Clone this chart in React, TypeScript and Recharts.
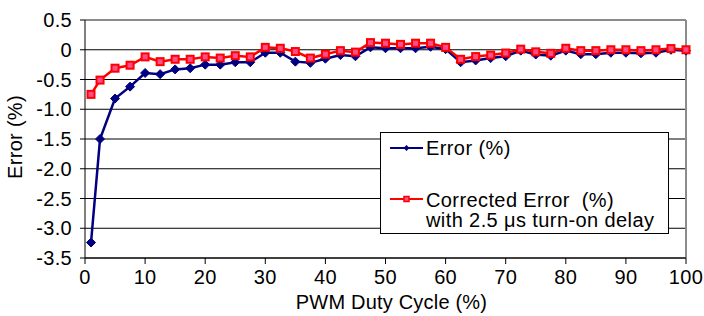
import React from 'react';
import { LineChart, Line, XAxis, YAxis, CartesianGrid, ReferenceLine, Legend } from 'recharts';

const dutyCycle = [1, 2.5, 5, 7.5, 10, 12.5, 15, 17.5, 20, 22.5, 25, 27.5, 30, 32.5, 35, 37.5, 40, 42.5, 45, 47.5, 50, 52.5, 55, 57.5, 60, 62.5, 65, 67.5, 70, 72.5, 75, 77.5, 80, 82.5, 85, 87.5, 90, 92.5, 95, 97.5, 100];
const errorPct = [-3.24, -1.5, -0.82, -0.62, -0.39, -0.41, -0.33, -0.31, -0.25, -0.25, -0.21, -0.21, -0.05, -0.05, -0.2, -0.22, -0.15, -0.09, -0.11, 0.04, 0.025, 0.025, 0.025, 0.05, 0.01, -0.21, -0.18, -0.14, -0.11, -0.015, -0.08, -0.1, -0.015, -0.075, -0.075, -0.05, -0.05, -0.06, -0.05, 0.0, -0.015];
const correctedPct = [-0.75, -0.51, -0.31, -0.26, -0.12, -0.2, -0.16, -0.16, -0.12, -0.14, -0.1, -0.12, 0.04, 0.025, -0.03, -0.14, -0.075, -0.015, -0.04, 0.12, 0.11, 0.09, 0.11, 0.11, 0.04, -0.16, -0.115, -0.09, -0.055, 0.01, -0.035, -0.06, 0.025, -0.015, -0.015, 0, 0, -0.015, 0, 0.02, 0];
const xTicks = [0, 10, 20, 30, 40, 50, 60, 70, 80, 90, 100];
const yTicks = [-3.5, -3, -2.5, -2, -1.5, -1, -0.5, 0, 0.5];
const seriesNames = ['Error (%)', 'Corrected Error  (%)'];
const correctedSubtitle = 'with 2.5 \u03bcs turn-on delay';
const xTitle = 'PWM Duty Cycle (%)';
const yTitle = 'Error (%)';

const data = dutyCycle.map((d, i) => ({ x: d, err: errorPct[i], corr: correctedPct[i] }));

const FONT = '"Liberation Sans", Arial, sans-serif';
const BLUE = '#000080';
const RED = '#ff0000';

const Diamond = (props: any) => {
  const { cx, cy, index } = props;
  if (cx == null || cy == null) return <g key={`dm-${index}`} />;
  const r = 4.5;
  return (
    <path key={`dm-${index}`} d={`M${cx},${cy - r}L${cx + r},${cy}L${cx},${cy + r}L${cx - r},${cy}Z`} fill={BLUE} stroke={BLUE} strokeWidth={1} />
  );
};

const Square = (props: any) => {
  const { cx, cy, index } = props;
  if (cx == null || cy == null) return <g key={`sq-${index}`} />;
  return <rect key={`sq-${index}`} x={cx - 3.5} y={cy - 3.5} width={7} height={7} fill="#ff4d8a" stroke={RED} strokeWidth={2} />;
};

const LegendBox = () => (
  <div style={{ width: 289, height: 102, boxSizing: 'border-box', border: '1px solid #000', background: '#fff', fontFamily: FONT, fontSize: 20, letterSpacing: '0.4px', color: '#000', position: 'relative' }}>
    <svg style={{ position: 'absolute', left: 9, top: 7 }} width={34} height={16}>
      <line x1={0} y1={8} x2={33} y2={8} stroke={BLUE} strokeWidth={2} />
      <path d="M16.5,5L19.5,8L16.5,11L13.5,8Z" fill={BLUE} />
    </svg>
    <div style={{ position: 'absolute', left: 45, top: 4, lineHeight: '22px', whiteSpace: 'pre' }}>{seriesNames[0]}</div>
    <svg style={{ position: 'absolute', left: 9, top: 58 }} width={34} height={16}>
      <line x1={0} y1={8} x2={33} y2={8} stroke={RED} strokeWidth={2} />
      <rect x={14} y={5.5} width={5} height={5} fill="#ff4d8a" stroke={RED} strokeWidth={1.5} />
    </svg>
    <div style={{ position: 'absolute', left: 45, top: 56, lineHeight: '22px', whiteSpace: 'pre' }}>{seriesNames[1]}</div>
    <div style={{ position: 'absolute', left: 45, top: 76, lineHeight: '22px', whiteSpace: 'pre' }}>{correctedSubtitle}</div>
  </div>
);

const fmtY = (v: number) => (v === 0 ? '0' : v.toFixed(1));

export default function App() {
  return (
    <div style={{ position: 'absolute', left: 0, top: 0, width: 704, height: 316, background: '#fff' }}>
      <LineChart width={704} height={316} data={data} margin={{ top: 20, right: 18, bottom: 0, left: 0 }}>
        <CartesianGrid vertical={false} stroke="#000" strokeWidth={1} />
        <XAxis
          dataKey="x"
          type="number"
          domain={[0, 100]}
          ticks={xTicks}
          height={58}
          stroke="#000"
          tickSize={6}
          tickMargin={6}
          tick={{ fill: '#000', fontSize: 20, fontFamily: FONT, letterSpacing: '0.3px' }}
          label={{
            content: (p: any) => {
              const vb = p.viewBox || {};
              return (
                <text x={vb.x + vb.width / 2 + 6} y={309} textAnchor="middle" fontSize={20} fontFamily={FONT} letterSpacing="0.2px" fill="#000">
                  {xTitle}
                </text>
              );
            },
          }}
        />
        <YAxis
          type="number"
          domain={[-3.5, 0.5]}
          ticks={yTicks}
          width={85}
          stroke="#000"
          tickSize={5}
          tickMargin={8}
          tickFormatter={fmtY}
          tick={{ fill: '#000', fontSize: 20, fontFamily: FONT, letterSpacing: '0.3px' }}
          label={{
            content: (p: any) => {
              const vb = p.viewBox || {};
              const cy = vb.y + vb.height / 2 - 2;
              return (
                <text x={22} y={cy} transform={`rotate(-90, 22, ${cy})`} textAnchor="middle" fontSize={20} fontFamily={FONT} letterSpacing="0.3px" fill="#000">
                  {yTitle}
                </text>
              );
            },
          }}
        />
        <ReferenceLine y={0.5} stroke="#8c8c8c" strokeWidth={2} />
        <ReferenceLine x={100} stroke="#8c8c8c" strokeWidth={2} />
        <Line type="linear" dataKey="err" name={seriesNames[0]} stroke={BLUE} strokeWidth={2.5} dot={Diamond} activeDot={false} isAnimationActive={false} />
        <Line type="linear" dataKey="corr" name={seriesNames[1]} stroke={RED} strokeWidth={2.5} dot={Square} activeDot={false} isAnimationActive={false} />
        <Legend layout="vertical" align="center" verticalAlign="middle" content={<LegendBox />} wrapperStyle={{ position: 'absolute', left: 380, top: 132, width: 289, height: 102 }} />
      </LineChart>
    </div>
  );
}
